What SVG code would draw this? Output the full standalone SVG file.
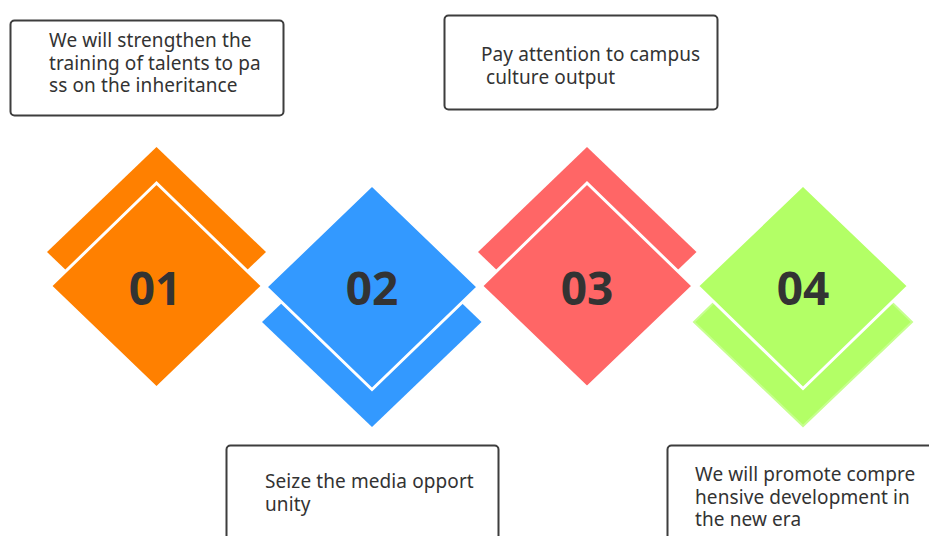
<svg xmlns="http://www.w3.org/2000/svg" width="929" height="536" viewBox="0 0 929 536">
<style>
.main{stroke:#ffffff;stroke-width:3;stroke-linejoin:miter}
.num{font-family:"Noto Sans","Open Sans",sans-serif;font-weight:bold;font-size:46px;fill:#333333;text-anchor:middle}
.box{fill:#ffffff;stroke:#3d3d3d;stroke-width:2}
.txt{font-family:"Noto Sans","Open Sans",sans-serif;font-size:19px;letter-spacing:0.1px;fill:#333333}
</style>
<rect width="929" height="536" fill="#ffffff"/>
<g id="node-01">
<polygon points="156.5,147 266,252 156.5,357 47,252" fill="#FF8000"/>
<polygon class="main" points="156.5,183 262.5,286 156.5,388 50.5,286" fill="#FF8000"/>
<text class="num" x="155" y="305">01</text>
</g>
<g id="node-02">
<polygon points="372,217 481.5,322 372,427 262,322" fill="#3399FF"/>
<polygon class="main" points="372,185 478,287 372,389.5 266,287" fill="#3399FF"/>
<text class="num" x="372" y="305">02</text>
</g>
<g id="node-03">
<polygon points="587,147 696.5,252 587,357 478,252" fill="#FF6666"/>
<polygon class="main" points="587,183 693,286 587,387.5 481.5,286" fill="#FF6666"/>
<text class="num" x="587" y="305">03</text>
</g>
<g id="node-04">
<polygon points="803,216 912,322 803,426 694,322" fill="#B3FF66" stroke="#C6FF8E" stroke-width="2"/>
<polygon class="main" points="803,185 908.5,286 803,388.5 697.5,286" fill="#B3FF66"/>
<text class="num" x="803" y="305">04</text>
</g>
<g id="box-1">
<rect class="box" x="10.5" y="20.5" width="273" height="95" rx="4"/>
<text class="txt" x="49" y="47">We will strengthen the<tspan x="49" dy="22.5">training of talents to pa</tspan><tspan x="49" dy="22.5">ss on the inheritance</tspan></text>
</g>
<g id="box-3">
<rect class="box" x="444.5" y="15.5" width="273" height="94" rx="4"/>
<text class="txt" x="481" y="61">Pay attention to campus<tspan x="486" dy="23">culture output</tspan></text>
</g>
<g id="box-2">
<rect class="box" x="226.5" y="445.5" width="272" height="120" rx="4"/>
<text class="txt" x="265" y="488">Seize the media opport<tspan x="265" dy="22.5">unity</tspan></text>
</g>
<g id="box-4">
<rect class="box" x="667.5" y="445.5" width="290" height="120" rx="4"/>
<text class="txt" x="695" y="481">We will promote compre<tspan x="695" dy="22.5">hensive development in</tspan><tspan x="695" dy="22.5">the new era</tspan></text>
</g>
</svg>
